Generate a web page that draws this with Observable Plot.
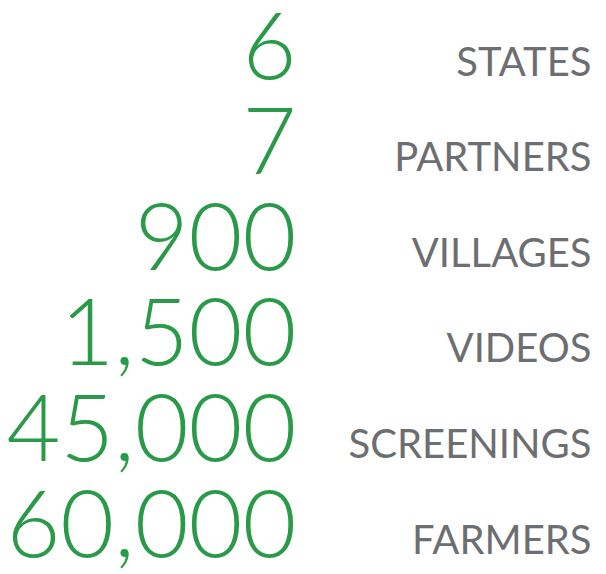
<!DOCTYPE html>
<html>
<head>
<meta charset="utf-8">
<script src="https://cdn.jsdelivr.net/npm/d3@7"></script>
<script src="https://cdn.jsdelivr.net/npm/@observablehq/plot@0.6"></script>
<style>
  html, body { margin: 0; padding: 0; background: #fff; }
</style>
</head>
<body>
<div id="chart"></div>
<script>
const values = ["6", "7", "900", "1,500", "45,000", "60,000"];
const labels = ["STATES", "PARTNERS", "VILLAGES", "VIDEOS", "SCREENINGS", "FARMERS"];

const rows = values.map((v, i) => ({ rank: i, value: v, label: labels[i] }));

const chart = Plot.plot({
  width: 606,
  height: 574,
  margin: 0,
  x: { type: "point", domain: ["value", "label"], range: [296, 591], padding: 0, axis: null },
  y: { domain: [0, 5], range: [78, 556], axis: null },
  marks: [
    Plot.text(rows, {
      x: () => "value", y: "rank", text: "value",
      textAnchor: "end", lineAnchor: "bottom",
      fill: "#2a9a48", fontSize: 93, fontWeight: 300,
      fontFamily: "Lato, 'Noto Sans', sans-serif"
    }),
    Plot.text(rows, {
      x: () => "label", y: "rank", text: "label",
      textAnchor: "end", lineAnchor: "bottom", dy: -3,
      fill: "#6d6e71", fontSize: 40, fontWeight: 400,
      fontFamily: "Lato, 'Noto Sans', sans-serif"
    })
  ]
});
document.getElementById("chart").appendChild(chart);
</script>
</body>
</html>
